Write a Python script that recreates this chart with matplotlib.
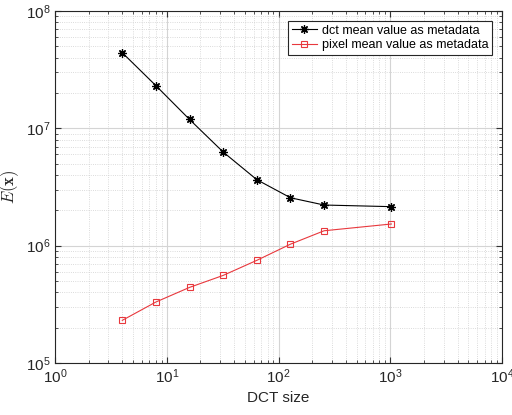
import numpy as np
import matplotlib
matplotlib.use("Agg")
import matplotlib.pyplot as plt

plt.rcParams["font.family"] = ["Liberation Sans", "DejaVu Sans"]
plt.rcParams["mathtext.fontset"] = "cm"

# data
dct_size = [4, 8, 16, 32, 64, 128, 256, 1024]
dct_meta = [4.41e7, 2.31e7, 1.19e7, 6.28e6, 3.65e6, 2.56e6, 2.22e6, 2.15e6]
pixel_meta = [2.31e5, 3.31e5, 4.41e5, 5.58e5, 7.50e5, 1.03e6, 1.34e6, 1.53e6]

fig = plt.figure(figsize=(5.12, 4.15), dpi=100)
ax = fig.add_axes([55 / 512, 1 - 363 / 415, 447 / 512, 352 / 415])

ax.loglog(dct_size, dct_meta, "-", color="black", lw=0.8, marker=(8, 2, 0),
          ms=6, markeredgewidth=0.9, label="dct mean value as metadata")
ax.loglog(dct_size, pixel_meta, "-", color="#e8383d", lw=0.8, marker="s",
          ms=4, markerfacecolor="none", markeredgewidth=0.8,
          label="pixel mean value as metadata")

ax.set_xlim(1, 1e4)
ax.set_ylim(1e5, 1e8)

ax.grid(True, which="major", color="#d4d4d4", lw=0.8, ls="-")
ax.grid(True, which="minor", color="#cfcfcf", lw=0.6, ls=":")
ax.set_axisbelow(True)

ax.tick_params(which="both", direction="in", top=True, right=True,
               labelsize=11, color="#333333", labelcolor="#262626")
ax.tick_params(which="major", length=4)
ax.tick_params(which="minor", length=2)
for s in ax.spines.values():
    s.set_color("#262626")
    s.set_linewidth(0.8)

ax.set_xlabel("DCT size", fontsize=11, labelpad=3, color="#262626")
ax.set_ylabel(r"$E(\mathbf{x})$", fontsize=12, labelpad=3, color="#262626")

leg = ax.legend(loc="upper right", fontsize=9, fancybox=False,
                framealpha=1, edgecolor="#262626", borderpad=0.3,
                handlelength=2.0, labelspacing=0.2, borderaxespad=0.8,
                handletextpad=0.4)
leg.get_frame().set_linewidth(0.8)

fig.savefig("out.png", dpi=100)
